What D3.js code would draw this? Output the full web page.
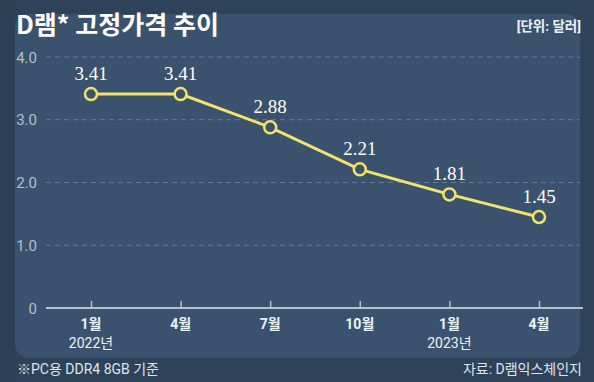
<!DOCTYPE html>
<html>
<head>
<meta charset="utf-8">
<script src="https://cdn.jsdelivr.net/npm/d3@7"></script>
<style>
  body { margin: 0; background: #2e4259; }
  svg { display: block; }
</style>
</head>
<body>
<div class="chart"></div>
<script>
// Data
let months = ["1월", "4월", "7월", "10월", "1월", "4월"];
let years = ["2022년", "", "", "", "2023년", ""];
let prices = [3.41, 3.41, 2.88, 2.21, 1.81, 1.45];
let yTicks = [0, 1, 2, 3, 4];
let yTickLabels = ["0", "1.0", "2.0", "3.0", "4.0"];

let svgWidth = 594;
let svgHeight = 382;
let sansKr = "Roboto, 'Noto Sans CJK KR', sans-serif";

let svg = d3.select(".chart")
  .append("svg")
  .attr("width", svgWidth)
  .attr("height", svgHeight);

// Backgrounds
svg.append("rect")
  .attr("width", svgWidth).attr("height", svgHeight)
  .attr("fill", "#2e4259");
svg.append("rect")
  .attr("x", 0).attr("y", 0).attr("width", 15).attr("height", svgHeight)
  .attr("fill", "#2c3e54");
svg.append("rect")
  .attr("x", 15).attr("y", 14).attr("width", 565).attr("height", 344)
  .attr("rx", 14)
  .attr("fill", "#3a526d");

// Scales
let xScale = d3.scalePoint()
  .domain(d3.range(months.length))
  .range([91, 539]);

let yScale = d3.scaleLinear()
  .domain([0, 4])
  .range([308, 57]);

// Grid lines
svg.append("g")
  .selectAll("line")
  .data(yTicks.filter(d => d > 0))
  .enter().append("line")
  .attr("x1", 46).attr("x2", 580)
  .attr("y1", d => yScale(d)).attr("y2", d => yScale(d))
  .attr("stroke", "#687c94")
  .attr("stroke-width", 1)
  .attr("stroke-dasharray", "5,4");

// Y tick labels
svg.append("g")
  .selectAll("text")
  .data(yTicks)
  .enter().append("text")
  .attr("x", 37)
  .attr("y", d => yScale(d) + 5.5)
  .attr("text-anchor", "end")
  .attr("font-family", "Roboto, 'Noto Sans', sans-serif")
  .attr("font-size", 15)
  .attr("fill", "#b4c0ce")
  .text((d, i) => yTickLabels[i]);

// Bottom axis
let bottomAxis = d3.axisBottom(xScale)
  .tickSize(-7)
  .tickFormat(() => "");
let axisG = svg.append("g")
  .attr("transform", "translate(0,308)")
  .call(bottomAxis);
axisG.select(".domain").remove();
axisG.selectAll(".tick line").attr("stroke", "#b4c0ce").attr("stroke-width", 1.5);
axisG.append("line")
  .attr("x1", 46).attr("x2", 583)
  .attr("stroke", "#b4c0ce").attr("stroke-width", 2);

// X labels
let xLabels = svg.append("g")
  .attr("font-family", sansKr)
  .attr("font-size", 14)
  .attr("fill", "#eef2f6")
  .attr("text-anchor", "middle");
xLabels.selectAll(".month")
  .data(months)
  .enter().append("text")
  .attr("class", "month")
  .attr("x", (d, i) => xScale(i))
  .attr("y", 329)
  .attr("font-weight", "bold")
  .text(d => d);
xLabels.selectAll(".year")
  .data(years)
  .enter().append("text")
  .attr("class", "year")
  .attr("x", (d, i) => xScale(i))
  .attr("y", 348)
  .text(d => d);

// Line
let line = d3.line()
  .x((d, i) => xScale(i))
  .y(d => yScale(d));
svg.append("path")
  .datum(prices)
  .attr("d", line)
  .attr("fill", "none")
  .attr("stroke", "#f3e36c")
  .attr("stroke-width", 3);

// Points
svg.append("g")
  .selectAll("circle")
  .data(prices)
  .enter().append("circle")
  .attr("cx", (d, i) => xScale(i))
  .attr("cy", d => yScale(d))
  .attr("r", 6)
  .attr("fill", "#3a526d")
  .attr("stroke", "#f3e36c")
  .attr("stroke-width", 2.5);

// Value labels
svg.append("g")
  .selectAll("text")
  .data(prices)
  .enter().append("text")
  .attr("x", (d, i) => xScale(i))
  .attr("y", d => yScale(d) - 14)
  .attr("text-anchor", "middle")
  .attr("font-family", "'Liberation Serif', 'DejaVu Serif', serif")
  .attr("font-size", 19)
  .attr("fill", "#ffffff")
  .text(d => d.toFixed(2));

// Title and notes
svg.append("text")
  .attr("x", 16).attr("y", 34)
  .attr("font-family", "'Noto Sans CJK KR', sans-serif")
  .attr("font-size", 25)
  .attr("font-weight", "bold")
  .attr("fill", "#ffffff")
  .text("D램* 고정가격 추이");

svg.append("text")
  .attr("x", 581).attr("y", 31)
  .attr("text-anchor", "end")
  .attr("font-family", sansKr)
  .attr("font-size", 13.5)
  .attr("font-weight", "bold")
  .attr("fill", "#eef2f6")
  .text("[단위: 달러]");

svg.append("text")
  .attr("x", 17).attr("y", 374)
  .attr("font-family", sansKr)
  .attr("font-size", 14)
  .attr("fill", "#dfe5ec")
  .text("※PC용 DDR4 8GB 기준");

svg.append("text")
  .attr("x", 582).attr("y", 374)
  .attr("text-anchor", "end")
  .attr("font-family", sansKr)
  .attr("font-size", 14)
  .attr("fill", "#dfe5ec")
  .text("자료: D램익스체인지");
</script>
</body>
</html>
